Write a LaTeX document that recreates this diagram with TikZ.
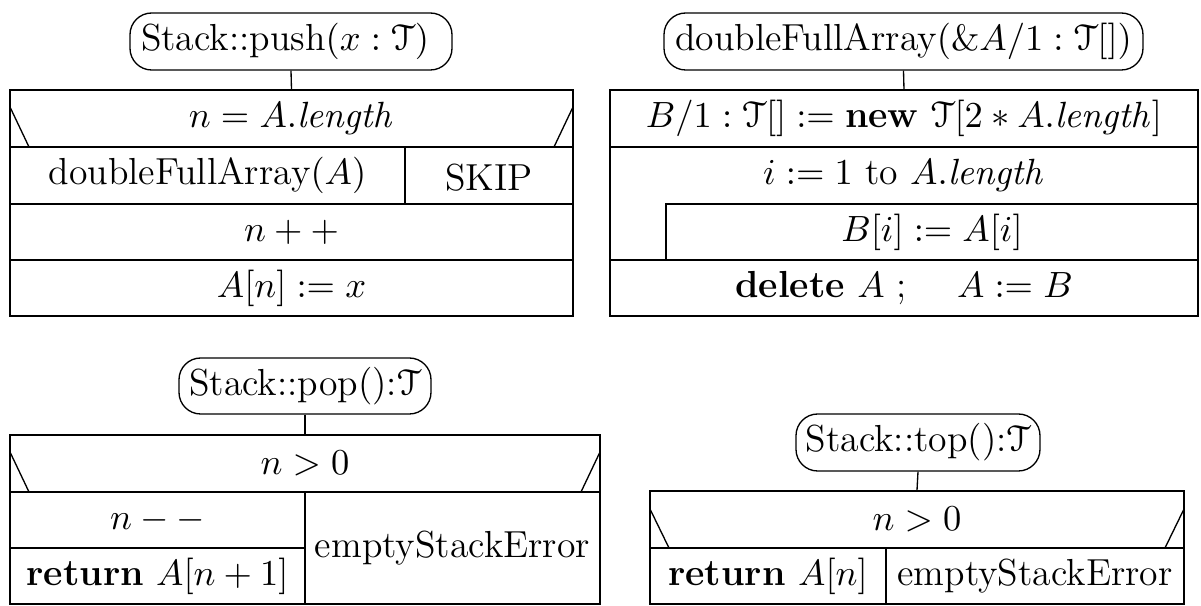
\documentclass[tikz,border=0pt]{standalone}
\usepackage{eucal}
\usetikzlibrary{fit}
\begin{document}
\begin{tikzpicture}[x=0.3pt,y=-0.3pt,
  every node/.style={font=\fontsize{11.3}{13.5}\selectfont},
  cell/.style={draw, inner sep=0pt, line width=0.4pt},
  title/.style={draw, inner sep=0pt, rounded corners=6.5pt, line width=0.4pt},
  txt/.style={inner sep=0pt, anchor=center},
  link/.style={line width=0.4pt},
  diag/.style={line width=0.4pt}]
\useasboundingbox (0,0) rectangle (1201,606);

% ---------- Stack::push ----------
\node[title, fit={(130,13) (452,70)}] (t1) {};
\node[txt, xshift=-1.8pt] (t1t) at (t1.center) {Stack::push$(x:\mathcal{T})$};
\node[cell, fit={(10,90) (573,147)}] (p1) {};
\node[txt] (p1t) at (p1.center) {$n = A.\mathit{length}$};
\node[cell, fit={(10,147) (405,204)}] (p2a) {};
\node[txt] (p2at) at (p2a.center) {doubleFullArray$(A)$};
\node[cell, fit={(405,147) (573,204)}] (p2b) {};
\node[txt, yshift=-0.6pt] (p2bt) at (p2b.center) {SKIP};
\node[cell, fit={(10,204) (573,260)}] (p3) {};
\node[txt] (p3t) at (p3.center) {$n++$};
\node[cell, fit={(10,260) (573,316)}] (p4) {};
\node[txt] (p4t) at (p4.center) {$A[n] := x$};
\draw[link] (t1.south) -- (p1.north);
\coordinate (p1l) at (10,107); \coordinate (p1lb) at (29,147);
\coordinate (p1r) at (573,107); \coordinate (p1rb) at (554,147);
\draw[diag] (p1l) -- (p1lb);
\draw[diag] (p1r) -- (p1rb);

% ---------- doubleFullArray ----------
\node[title, fit={(664,13) (1143,70)}] (t2) {};
\node[txt] (t2t) at (t2.center) {doubleFullArray$(\&A/1:\mathcal{T}[])$};
\node[cell, fit={(610,90) (1198,147)}] (d1) {};
\node[txt] (d1t) at (d1.center) {$B/1:\mathcal{T}[] := \textbf{new}\ \mathcal{T}[2*A.\mathit{length}]$};
\node[cell, fit={(610,147) (1198,260)}] (d2) {};
\node[txt] (d2t) at (904,175.5) {$i := 1$ to $A.\mathit{length}$};
\node[cell, fit={(666,204) (1198,260)}] (d3) {};
\node[txt] (d3t) at (d3.center) {$B[i] := A[i]$};
\node[cell, fit={(610,260) (1198,316)}] (d4) {};
\node[txt] (d4t) at (d4.center) {\textbf{delete} $A$ ;\quad\ $A := B$};
\draw[link] (t2.south) -- (d1.north);

% ---------- Stack::pop ----------
\node[title, fit={(179,358) (431,414)}] (t3) {};
\node[txt] (t3t) at (t3.center) {Stack::pop():$\mathcal{T}$};
\node[cell, fit={(10,435) (600,492)}] (o1) {};
\node[txt] (o1t) at (o1.center) {$n > 0$};
\node[cell, fit={(10,492) (305,548)}] (o2) {};
\node[txt] (o2t) at (o2.center) {$n--$};
\node[cell, fit={(10,548) (305,604)}] (o3) {};
\node[txt] (o3t) at (o3.center) {\textbf{return} $A[n+1]$};
\node[cell, fit={(305,492) (600,604)}] (o4) {};
\node[txt] (o4t) at (o4.center) {emptyStackError};
\draw[link] (t3.south) -- (o1.north);
\coordinate (o1l) at (10,452); \coordinate (o1lb) at (29,492);
\coordinate (o1r) at (600,452); \coordinate (o1rb) at (581,492);
\draw[diag] (o1l) -- (o1lb);
\draw[diag] (o1r) -- (o1rb);

% ---------- Stack::top ----------
\node[title, fit={(796,414) (1040,471)}] (t4) {};
\node[txt] (t4t) at (t4.center) {Stack::top():$\mathcal{T}$};
\node[cell, fit={(650,491) (1184,548)}] (s1) {};
\node[txt] (s1t) at (s1.center) {$n > 0$};
\node[cell, fit={(650,548) (886,604)}] (s2) {};
\node[txt] (s2t) at (s2.center) {\textbf{return} $A[n]$};
\node[cell, fit={(886,548) (1184,604)}] (s3) {};
\node[txt] (s3t) at (s3.center) {emptyStackError};
\draw[link] (t4.south) -- (s1.north);
\coordinate (s1l) at (650,509); \coordinate (s1lb) at (669,548);
\coordinate (s1r) at (1184,509); \coordinate (s1rb) at (1165,548);
\draw[diag] (s1l) -- (s1lb);
\draw[diag] (s1r) -- (s1rb);
\end{tikzpicture}
\end{document}
